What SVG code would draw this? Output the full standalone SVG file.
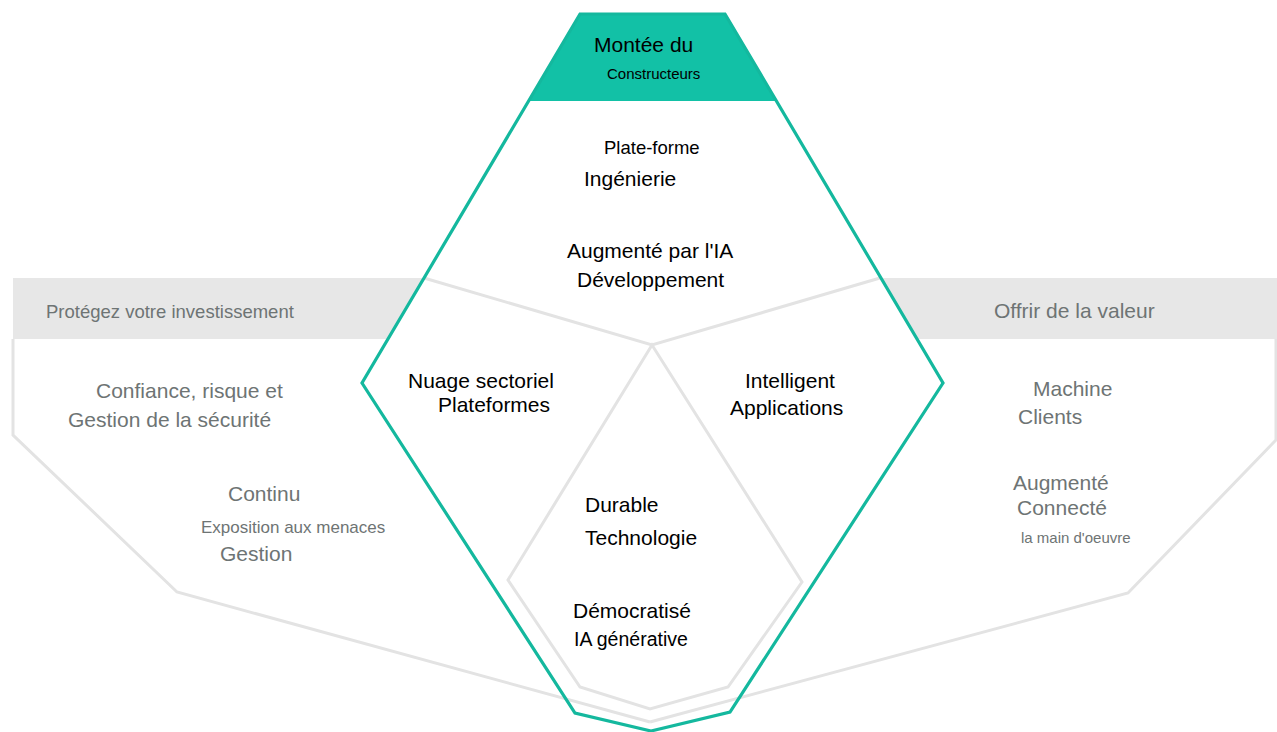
<svg xmlns="http://www.w3.org/2000/svg" width="1277" height="732" viewBox="0 0 1277 732">
<style>
.t{font-family:"Liberation Sans",Arial,sans-serif;fill:#000}
.g{font-family:"Liberation Sans",Arial,sans-serif;fill:#6e7474}
.gl{fill:none;stroke:#e3e3e3;stroke-width:3;stroke-linejoin:miter}
.teal{fill:none;stroke:#14b89e;stroke-width:3.2;stroke-linejoin:miter}
</style>
<rect width="1277" height="732" fill="#ffffff"/>
<g id="band">
<rect x="13" y="278" width="1264" height="61" fill="#e7e7e7"/>
</g>
<g id="hexagon-fill">
<polygon points="580,14 725,14 943,383 730,712 651,731 575,713 362,383" fill="#ffffff"/>
</g>
<g id="connectors">
<polyline class="gl" points="13,339 13,435 177,592 650,722"/>
<polyline class="gl" points="1276,339 1276,440 1128,593 650,722"/>
<polyline class="gl" points="424,278 652,345 880,278"/>
<polygon class="gl" points="652,345 508,580 580,687 650,709 728,687 802,582"/>
</g>
<g id="top-node">
<polygon points="580,14 725,14 777,101 529,101" fill="#12c1a6"/>
<text class="t" x="594" y="52" font-size="21">Montée du</text>
<text class="t" x="607" y="79" font-size="15">Constructeurs</text>
</g>
<g id="teal-outline">
<polygon class="teal" points="580,14 725,14 943,383 730,712 651,731 575,713 362,383"/>
</g>
<g id="node-platform">
<text class="t" x="604" y="154" font-size="18.5">Plate-forme</text>
<text class="t" x="584" y="186" font-size="21">Ingénierie</text>
</g>
<g id="node-ai-dev">
<text class="t" x="567" y="258" font-size="21">Augmenté par l'IA</text>
<text class="t" x="577" y="287" font-size="21">Développement</text>
</g>
<g id="node-cloud">
<text class="t" x="408" y="388" font-size="21">Nuage sectoriel</text>
<text class="t" x="438" y="412" font-size="21">Plateformes</text>
</g>
<g id="node-apps">
<text class="t" x="745" y="388" font-size="21">Intelligent</text>
<text class="t" x="730" y="415" font-size="21">Applications</text>
</g>
<g id="node-sustainable">
<text class="t" x="585" y="512" font-size="21">Durable</text>
<text class="t" x="585" y="545" font-size="21">Technologie</text>
</g>
<g id="node-genai">
<text class="t" x="573" y="618" font-size="21">Démocratisé</text>
<text class="t" x="574" y="646" font-size="19.5">IA générative</text>
</g>
<g id="left-title">
<text class="g" x="46" y="318" font-size="18.5" fill="#777c7c">Protégez votre investissement</text>
</g>
<g id="node-trism">
<text class="g" x="96" y="398" font-size="21">Confiance, risque et</text>
<text class="g" x="68" y="427" font-size="21">Gestion de la sécurité</text>
</g>
<g id="node-ctem">
<text class="g" x="228" y="501" font-size="21">Continu</text>
<text class="g" x="201" y="533" font-size="17">Exposition aux menaces</text>
<text class="g" x="220" y="561" font-size="21">Gestion</text>
</g>
<g id="right-title">
<text class="g" x="994" y="318" font-size="21">Offrir de la valeur</text>
</g>
<g id="node-machine">
<text class="g" x="1033" y="396" font-size="21">Machine</text>
<text class="g" x="1018" y="424" font-size="21">Clients</text>
</g>
<g id="node-workforce">
<text class="g" x="1013" y="490" font-size="21">Augmenté</text>
<text class="g" x="1017" y="515" font-size="21">Connecté</text>
<text class="g" x="1021" y="543" font-size="15">la main d'oeuvre</text>
</g>
</svg>
